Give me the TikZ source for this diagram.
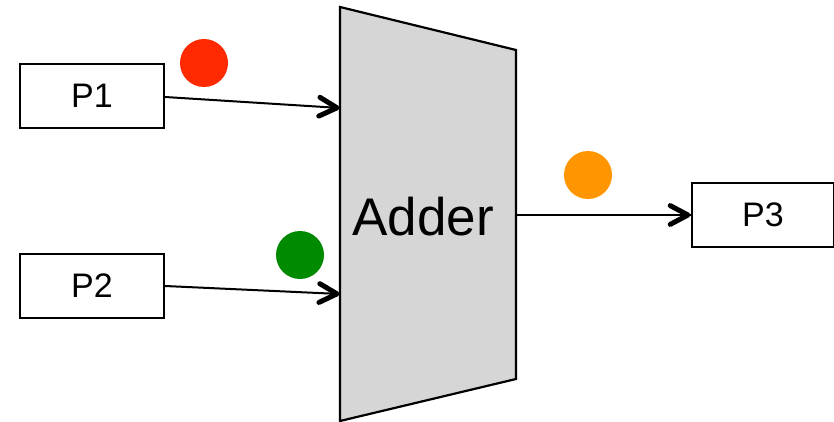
\documentclass[tikz,border=0pt]{standalone}
\usepackage{fontspec}
\setmainfont{Liberation Sans}
\usetikzlibrary{calc}
\definecolor{adderfill}{HTML}{D6D6D6}
\definecolor{dotred}{HTML}{FF2A00}
\definecolor{dotgreen}{HTML}{008A00}
\definecolor{dotorange}{HTML}{FF9500}
\begin{document}
\begin{tikzpicture}[x=1pt,y=-1pt,
  pbox/.style={draw=black,line width=2.2pt,fill=white,minimum width=144pt,minimum height=64pt,inner sep=0pt,font=\fontsize{34}{40}\selectfont},
  conn/.style={line width=2pt},
  chev/.style={line width=5pt,line cap=round,line join=round},
  dot/.style={circle,inner sep=0pt,minimum size=48pt}
]
\useasboundingbox (0,0) rectangle (834,422);
% adder
\draw[line width=2.2pt,fill=adderfill,line join=miter] (340,7) -- (516,50) -- (516,379) -- (340,421) -- cycle;
\node[font=\fontsize{53}{60}\selectfont] (adder) at (423,217) {Adder};
\coordinate (in1) at (340,108);
\coordinate (in2) at (340,294);
\coordinate (out) at (516,215);
% boxes
\node[pbox] (P1) at (92,96) {P1};
\node[pbox] (P2) at (92,286) {P2};
\node[pbox,minimum width=142pt] (P3) at (763,215) {P3};
\coordinate (s1) at ($(P1.east)+(0,1)$);
% connectors
\draw[conn] (s1) -- (in1);
\draw[conn] (P2.east) -- (in2);
\draw[conn] (out) -- (P3.west);
% arrow heads
\coordinate (t1) at ($(in1)!3pt!(s1)$);
\coordinate (t2) at ($(in2)!3pt!(P2.east)$);
\coordinate (t3) at ($(P3.west)!3pt!(out)$);
\draw[chev] ($(t1)!20pt!28:(s1)$) -- (t1) -- ($(t1)!20pt!-28:(s1)$);
\draw[chev] ($(t2)!20pt!28:(P2.east)$) -- (t2) -- ($(t2)!20pt!-28:(P2.east)$);
\draw[chev] ($(t3)!20pt!28:(out)$) -- (t3) -- ($(t3)!20pt!-28:(out)$);
% dots
\node[dot,fill=dotred] (d1) at (204,63) {};
\node[dot,fill=dotgreen] (d2) at (300,255) {};
\node[dot,fill=dotorange] (d3) at (588,175) {};
\end{tikzpicture}
\end{document}
